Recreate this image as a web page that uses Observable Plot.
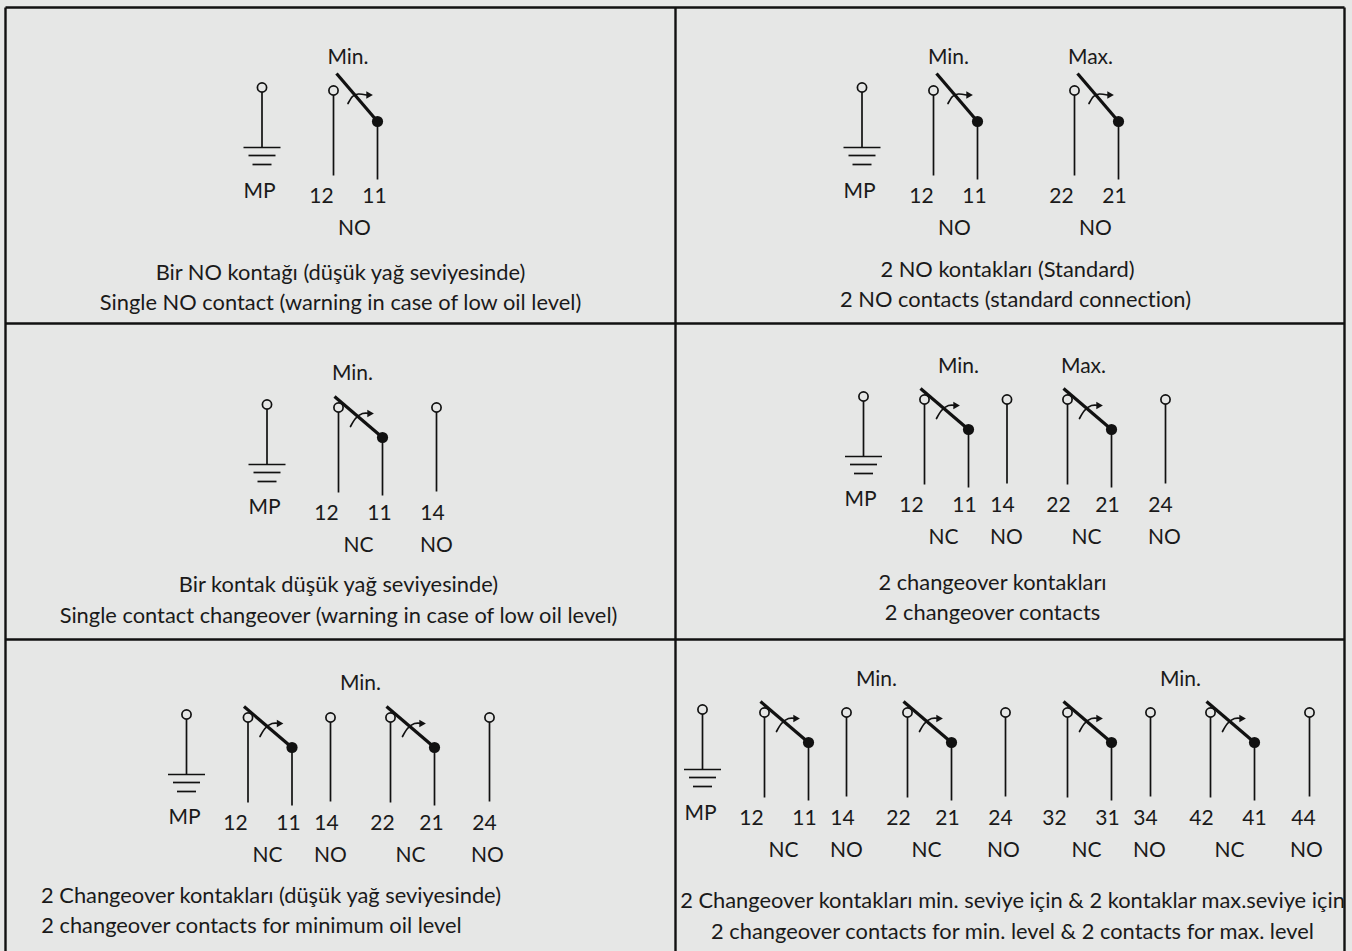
<!DOCTYPE html>
<html><head><meta charset="utf-8">
<script src="https://cdn.jsdelivr.net/npm/d3@7"></script>
<script src="https://cdn.jsdelivr.net/npm/@observablehq/plot@0.6"></script>
<style>html,body{margin:0;padding:0;background:#e6e7e6;overflow:hidden}svg{display:block}</style>
</head><body><div id="chart"></div>
<script>
// Frame lines of the six-panel table
const frameX1 = [5, 5, 1344, 5, 5, 675];
const frameY1 = [7, 7, 7, 323, 639, 7];
const frameX2 = [1344, 5, 1344, 1344, 1344, 675];
const frameY2 = [7, 951, 951, 323, 639, 951];

// Ground (MP) terminals
const groundX = [261.5, 861.5, 266.5, 863, 186, 702];
const groundY = [87, 87, 404, 396, 714, 709];

// Switching contacts (x of the fixed stem, y of its terminal, drawing variant)
const contactX = [333, 933, 1074, 338, 924, 1067, 247.5, 390, 764, 907, 1067, 1210];
const contactY = [90, 90, 90, 407, 399, 399, 717, 717, 712, 712, 712, 712];
const contactVariant = [0, 0, 0, 1, 1, 1, 1, 1, 1, 1, 1, 1];

// Extra changeover stems
const extraX = [436, 1006.5, 1165, 330, 489, 846, 1005, 1150, 1309];
const extraY = [407, 399, 399, 717, 717, 712, 712, 712, 712];

// Terminal labels
const labelText = ["Min.","MP","12","11","NO",
  "Min.","Max.","MP","12","11","22","21","NO","NO",
  "Min.","MP","12","11","14","NC","NO",
  "Min.","Max.","MP","12","11","14","22","21","24","NC","NO","NC","NO",
  "Min.","MP","12","11","14","22","21","24","NC","NO","NC","NO",
  "Min.","Min.","MP","12","11","14","22","21","24","32","31","34","42","41","44","NC","NO","NC","NO","NC","NO","NC","NO"];
const labelX = [347.5,259,321,374,354,
  948,1090,859,921,974,1061,1114,954,1095,
  352,264,326,379,432,358,436,
  958,1083,860,911,964,1002,1058,1107,1160,943,1006,1086,1164,
  360,184,235,288,326,382,431,484,267,330,410,487,
  876,1180,700,751,804,842,898,947,1000,1054,1107,1145,1201,1254,1303,783,846,926,1003,1086,1149,1229,1306];
const labelY = [57,191,196,196,228,
  57,57,191,196,196,196,196,228,228,
  373,507,513,513,513,545,545,
  366,366,499,505,505,505,505,505,505,537,537,537,537,
  683,817,823,823,823,823,823,823,855,855,855,855,
  679,679,813,818,818,818,818,818,818,818,818,818,818,818,818,850,850,850,850,850,850,850,850];

// Panel captions
const captionText = [
  "Bir NO kontağı (düşük yağ seviyesinde)",
  "Single NO contact (warning in case of low oil level)",
  "2 NO kontakları (Standard)",
  "2 NO contacts (standard connection)",
  "Bir kontak düşük yağ seviyesinde)",
  "Single contact changeover (warning in case of low oil level)",
  "2 changeover kontakları",
  "2 changeover contacts",
  "2 Changeover kontakları (düşük yağ seviyesinde)",
  "2 changeover contacts for minimum oil level",
  "2 Changeover kontakları min. seviye için & 2 kontaklar max.seviye için",
  "2 changeover contacts for min. level & 2 contacts for max. level"];
const captionX = [340,340,1007,1015,338,338,992,992,270.5,251,1012,1012];
const captionY = [272,302,269,299,584,615,582,612,895,925,900,931];

// Symbol geometry relative to the contact, one entry per drawing variant
const stemLength = 85, pivotDx = 44, pivotStem = 58;
const pivotDy = [31, 30];
const bladeDx = [3, -4], bladeDy = [-17, -11];
const arcDx = [[14.5, 19, 25, 33], [12, 17, 24, 32]];
const arcDy = [[13, 6, 3.5, 4.5], [19, 11, 6, 6]];
const tipDx = [35, 31], tipDy = [4.5, 6];
const groundStem = 60, barHalf = [18.5, 13.5, 9.5], barDy = [60, 68, 77];

const toRows = (xs, ys) => xs.map((x, i) => ({x, y: ys[i]}));
const ground = toRows(groundX, groundY);
const contacts = contactX.map((x, i) => ({x, y: contactY[i], v: contactVariant[i]}));
const extras = toRows(extraX, extraY);
const frame = frameX1.map((x, i) => ({x1: x, y1: frameY1[i], x2: frameX2[i], y2: frameY2[i]}));
const labels = labelText.map((text, i) => ({text, x: labelX[i], y: labelY[i]}));
const captions = captionText.map((text, i) => ({text, x: captionX[i], y: captionY[i]}));
const bars = ground.flatMap(g => barHalf.map((h, i) => ({x1: g.x - h, x2: g.x + h, y: g.y + barDy[i]})));
const arcs = contacts.flatMap((c, k) => arcDx[c.v].map((d, i) => ({k, x: c.x + d, y: c.y + arcDy[c.v][i]})));

const ink = "#111";
const bg = "#e6e7e6";
const thin = 1.7;
const font = "Lato, sans-serif";
const plot = Plot.plot({
  width: 1352, height: 951, margin: 0,
  style: {background: bg, fontFamily: font, fontVariantLigatures: "none"},
  x: {type: "linear", domain: [0, 1352], range: [0, 1352], axis: null},
  y: {type: "linear", domain: [0, 951], range: [0, 951], axis: null},
  marks: [
    Plot.link(frame, {x1: "x1", y1: "y1", x2: "x2", y2: "y2", stroke: ink, strokeWidth: 2.4}),
    // ground symbols
    Plot.link(ground, {x1: "x", x2: "x", y1: "y", y2: d => d.y + groundStem, stroke: ink, strokeWidth: thin}),
    Plot.link(bars, {x1: "x1", x2: "x2", y1: "y", y2: "y", stroke: ink, strokeWidth: thin}),
    Plot.dot(ground, {x: "x", y: "y", r: 4.6, fill: bg, stroke: ink, strokeWidth: thin}),
    // fixed contact stems
    Plot.link(contacts, {x1: "x", x2: "x", y1: "y", y2: d => d.y + stemLength, stroke: ink, strokeWidth: thin}),
    Plot.dot(contacts, {x: "x", y: "y", r: 4.6, fill: bg, stroke: ink, strokeWidth: thin}),
    Plot.link(extras, {x1: "x", x2: "x", y1: "y", y2: d => d.y + stemLength - 1, stroke: ink, strokeWidth: thin}),
    Plot.dot(extras, {x: "x", y: "y", r: 4.6, fill: bg, stroke: ink, strokeWidth: thin}),
    // pivot stems and blades
    Plot.link(contacts, {x1: d => d.x + pivotDx, x2: d => d.x + pivotDx, y1: d => d.y + pivotDy[d.v], y2: d => d.y + pivotDy[d.v] + pivotStem, stroke: ink, strokeWidth: thin}),
    Plot.link(contacts, {x1: d => d.x + bladeDx[d.v], y1: d => d.y + bladeDy[d.v], x2: d => d.x + pivotDx, y2: d => d.y + pivotDy[d.v], stroke: ink, strokeWidth: 3.2}),
    Plot.dot(contacts, {x: d => d.x + pivotDx, y: d => d.y + pivotDy[d.v], r: 5.6, fill: ink, stroke: "none"}),
    // actuation arcs with arrowheads
    Plot.line(arcs, {x: "x", y: "y", z: "k", curve: "natural", stroke: ink, strokeWidth: thin}),
    Plot.dot(contacts, {x: d => d.x + tipDx[d.v], y: d => d.y + tipDy[d.v], symbol: "triangle2", r: 3.6, rotate: 90, fill: ink, stroke: "none"}),
    // text
    Plot.text(labels, {x: "x", y: "y", text: "text", fontSize: 21, fill: "#1a1a1a", lineAnchor: "middle"}),
    Plot.text(captions, {x: "x", y: "y", dy: 0.5, text: "text", fontSize: 21.85, fill: "#1a1a1a", lineAnchor: "middle"})
  ]
});
document.getElementById("chart").appendChild(plot);
</script></body></html>
